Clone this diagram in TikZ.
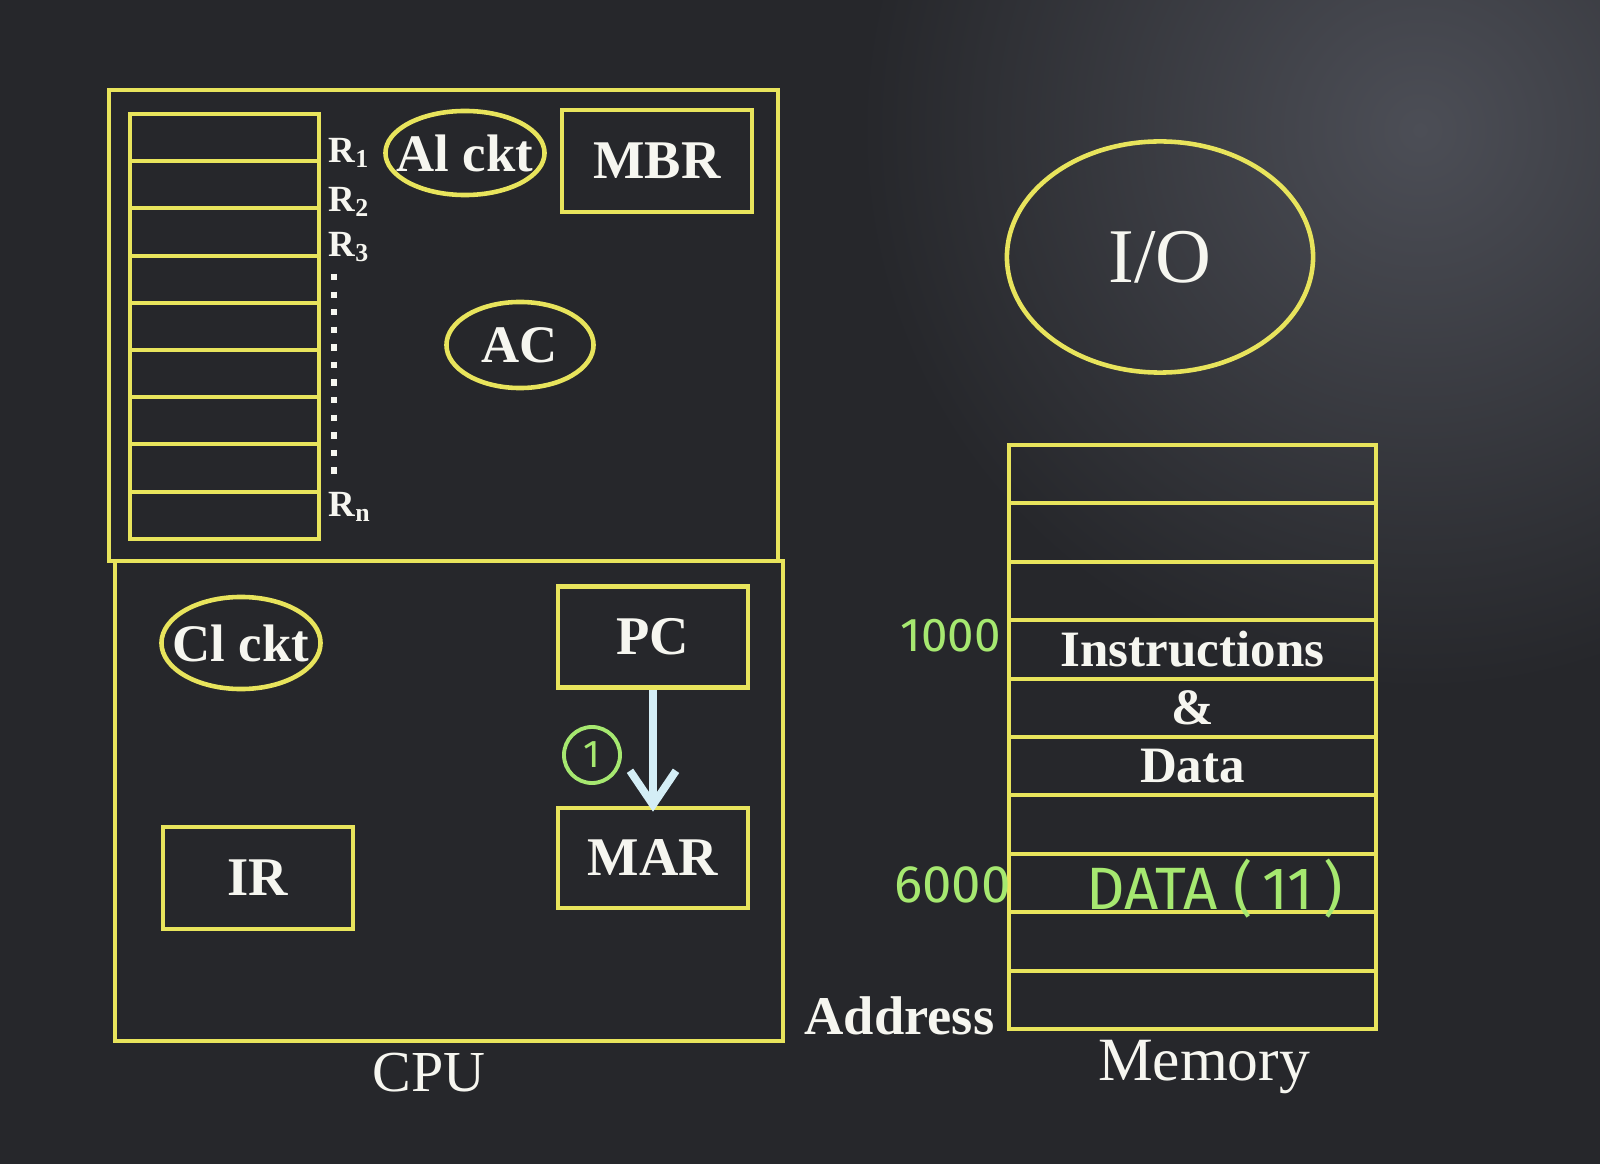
\documentclass[tikz,border=0pt]{standalone}
\usepackage{fontspec}
\setmainfont{Liberation Serif}
\setsansfont{Fira Sans}
\usetikzlibrary{arrows.meta,positioning,calc,shapes.geometric}
\definecolor{board}{RGB}{38,39,43}
\definecolor{boardglow}{RGB}{76,78,86}
\definecolor{chalk}{RGB}{232,228,92}
\definecolor{ink}{RGB}{246,246,240}
\definecolor{marker}{RGB}{166,232,112}
\definecolor{flow}{RGB}{212,238,246}

\begin{document}
\begin{tikzpicture}[x=0.01cm, y=-0.01cm,
      every node/.style={text=ink},
      reg/.style={rectangle, draw=chalk, line width=1.3pt, inner sep=0pt,
                  font=\fontsize{15.5}{18}\selectfont\bfseries},
      oval/.style={ellipse, draw=chalk, line width=1.3pt, inner ysep=0pt, inner xsep=-0.16cm,
                   font=\fontsize{15}{18}\selectfont\bfseries},
      cell/.style={rectangle, draw=chalk, line width=1.1pt, inner sep=0pt},
      rlab/.style={font=\fontsize{10.5}{11}\selectfont\bfseries, inner sep=0pt},
      memtext/.style={font=\fontsize{14.5}{16}\selectfont\bfseries},
      hand/.style={text=marker, font=\sffamily\fontsize{13.5}{16}\selectfont},
      caption/.style={font=\fontsize{16.5}{20}\selectfont},
      flowarrow/.style={draw=flow, line width=2.2pt, shorten >=-0.06cm,
                        -{Straight Barb[length=3.4mm, width=4.6mm, line width=2.2pt]}}
    ]
    % board
    \useasboundingbox (0,0) rectangle (1600,1164);
    \fill[board] (0,0) rectangle (1600,1164);
    \begin{scope}
      \clip (0,0) rectangle (1600,1164);
      \shade[inner color=boardglow, outer color=board] (1420,130) circle (560);
    \end{scope}
    % cpu halves
    \draw[chalk, line width=1.3pt] (109,90) rectangle (778,561);
    \draw[chalk, line width=1.3pt] (115,561) rectangle (783,1041);
    % register file
    \foreach \i in {1,...,9}
      \node[cell, minimum width=1.89cm, minimum height=0.472cm]
        (g\i) at (224.5, 137.6+47.2*\i-47.2) {};
    \node[rlab, anchor=west] (r1) at (328,153) {R\textsubscript{1}};
    \node[rlab, anchor=west] (r2) at (328,202) {R\textsubscript{2}};
    \node[rlab, anchor=west] (r3) at (328,247) {R\textsubscript{3}};
    \node[rlab, anchor=west] (rn) at (328,507) {R\textsubscript{n}};
    \draw[ink, line width=1.8pt, dash pattern=on 1.8pt off 3.2pt]
      (334,274) -- (334,474);
    % top half
    \node[oval, minimum width=1.59cm, minimum height=0.84cm] (alu) at (465,153) {Al ckt};
    \node[reg, minimum width=1.90cm, minimum height=1.02cm] (mbr) at (657,161) {MBR};
    \node[oval, minimum width=1.47cm, minimum height=0.86cm] (ac) at (520,345) {AC};
    % bottom half
    \node[oval, minimum width=1.59cm, minimum height=0.92cm] (cu) at (241,643) {Cl ckt};
    \node[reg, minimum width=1.90cm, minimum height=1.01cm] (pc) at (653,637) {PC};
    \node[reg, minimum width=1.90cm, minimum height=1.00cm] (mar) at (653,858) {MAR};
    \node[reg, minimum width=1.90cm, minimum height=1.02cm] (ir) at (258,878) {IR};
    \draw[flowarrow] (pc) -- (mar);
    \node[circle, draw=marker, line width=1.1pt, inner sep=0pt, minimum size=0.56cm,
          hand, font=\sffamily\fontsize{11}{12}\selectfont] (step1) at (592,755) {1};
    \node[caption] (cpu) at (429,1073) {CPU};
    % io
    \node[oval, minimum width=3.06cm, minimum height=2.31cm,
          font=\fontsize{22}{24}\selectfont] (io) at (1160,257) {I/O};
    % memory
    \foreach \i in {1,...,10}
      \node[cell, minimum width=3.67cm, minimum height=0.584cm]
        (m\i) at (1192.5, 474.2+58.4*\i-58.4) {};
    \node[memtext] (txt1) at (m4) {Instructions};
    \node[memtext] (txt2) at (m5) {\&};
    \node[memtext] (txt3) at (m6) {Data};
    \node[hand, anchor=east] (a1000) at ($(m4.west)+(6,-14)$) {1000};
    \node[hand, anchor=east, font=\sffamily\fontsize{15}{18}\selectfont] (a6000) at ($(m8.west)+(16,2)$) {6000};
    \node[hand, font=\sffamily\fontsize{17}{18}\selectfont] (d11) at ($(m8)+(22,6)$) {DATA (\,11\,)};
    \node[font=\fontsize{15.5}{16}\selectfont\bfseries, anchor=east, inner sep=0pt] (addr) at (995,1016) {Address};
    \node[caption, font=\fontsize{17.5}{20}\selectfont] (mem) at (1204,1067) {Memory};
  \end{tikzpicture}
\end{document}
